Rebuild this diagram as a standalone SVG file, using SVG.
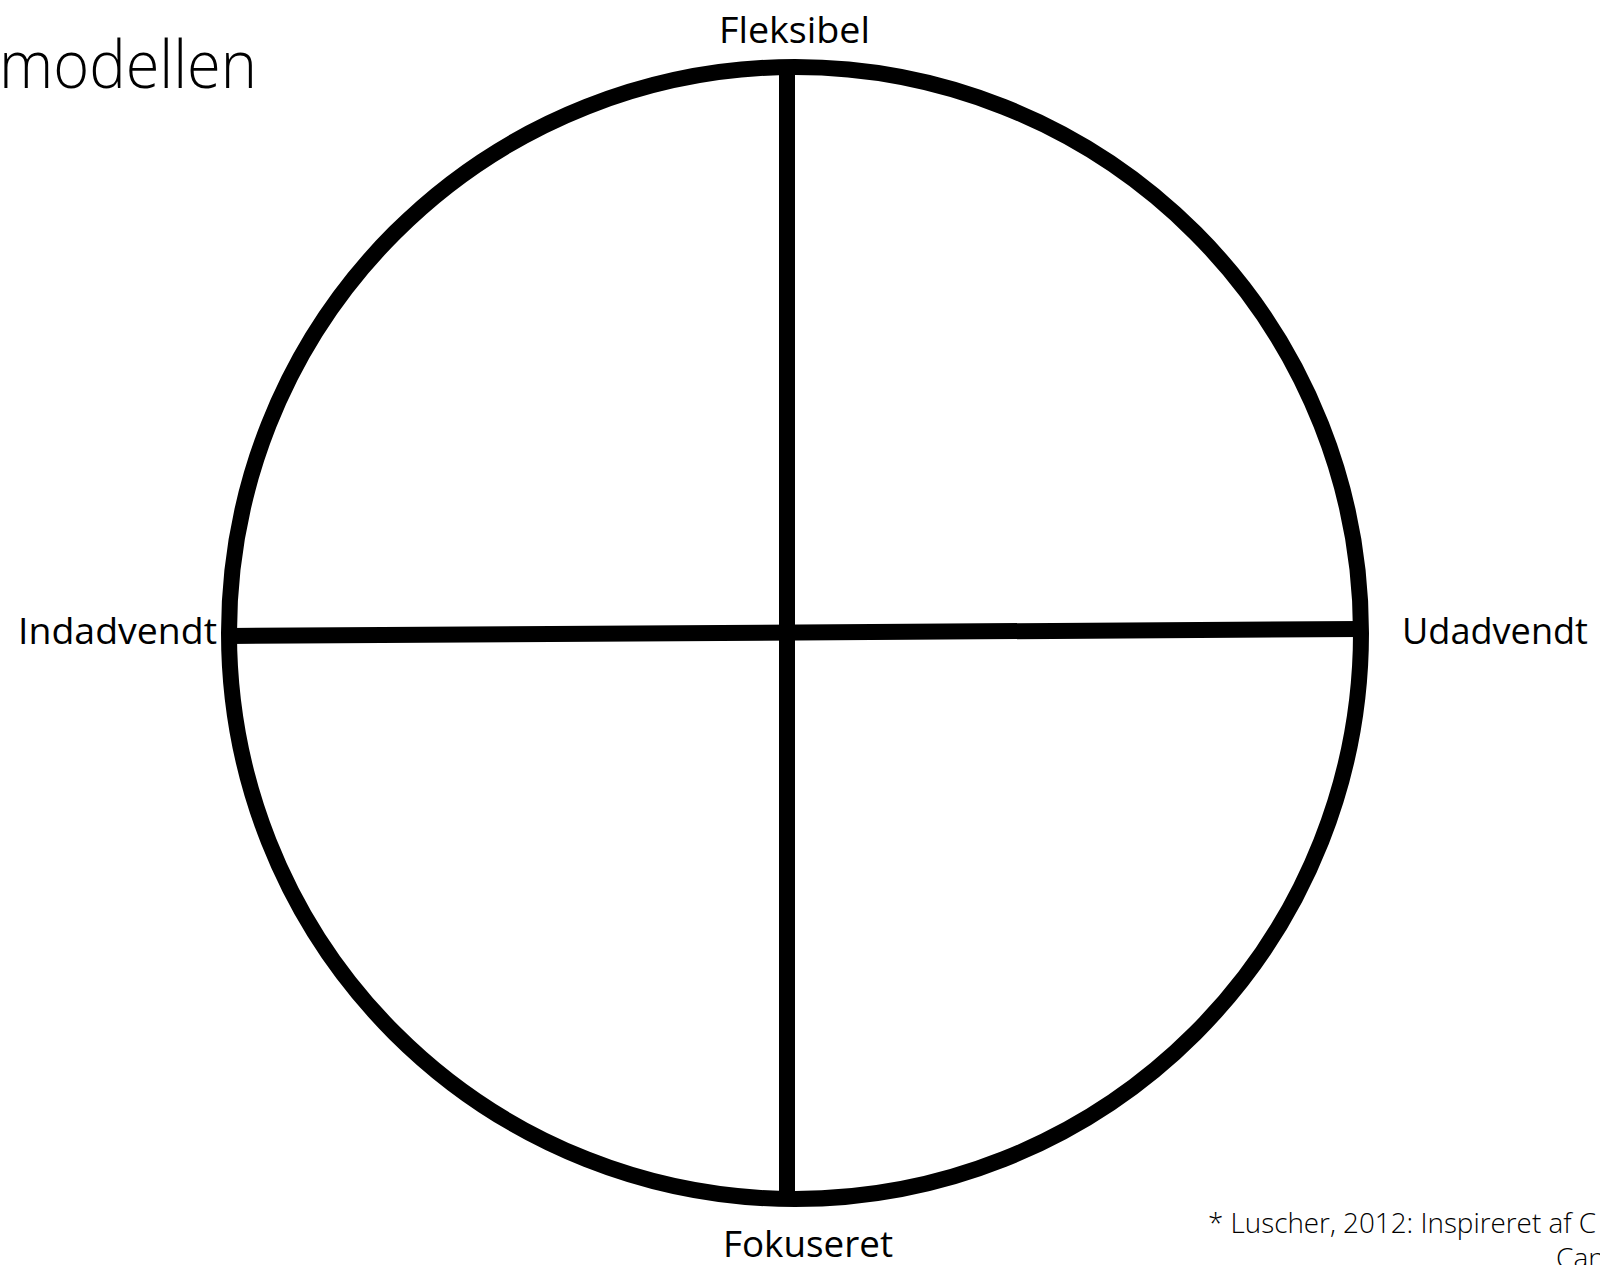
<svg xmlns="http://www.w3.org/2000/svg" width="1600" height="1265" viewBox="0 0 1600 1265">
<style>
.lbl{font-family:"Open Sans","Noto Sans","Liberation Sans",sans-serif;font-size:37px;fill:#000}
.light{font-family:"Open Sans","Noto Sans","Liberation Sans",sans-serif;font-weight:300;fill:#000}
.ln{stroke:#000;stroke-width:16;fill:none}
</style>
<rect width="1600" height="1265" fill="#fff"/>
<g id="title"><text class="light" x="-1" y="88" font-size="66" textLength="258" lengthAdjust="spacingAndGlyphs">modellen</text></g>
<g id="circle"><circle class="ln" cx="795" cy="633" r="566"/></g>
<g id="connectors">
<line class="ln" x1="787" y1="67" x2="787" y2="1199"/>
<line class="ln" x1="229" y1="636" x2="1361" y2="629"/>
</g>
<g id="fleksibel"><text class="lbl" x="719" y="43" textLength="151" lengthAdjust="spacingAndGlyphs">Fleksibel</text></g>
<g id="indadvendt"><text class="lbl" x="18" y="644" textLength="199" lengthAdjust="spacingAndGlyphs">Indadvendt</text></g>
<g id="udadvendt"><text class="lbl" x="1402" y="644" textLength="186" lengthAdjust="spacingAndGlyphs">Udadvendt</text></g>
<g id="fokuseret"><text class="lbl" x="723" y="1257" textLength="170" lengthAdjust="spacingAndGlyphs">Fokuseret</text></g>
<g id="footnote">
<text class="light" x="1208" y="1233" font-size="28" textLength="388" lengthAdjust="spacingAndGlyphs">* Luscher, 2012: Inspireret af C</text>
<text class="light" x="1556" y="1268" font-size="28">Can</text>
</g>
</svg>
